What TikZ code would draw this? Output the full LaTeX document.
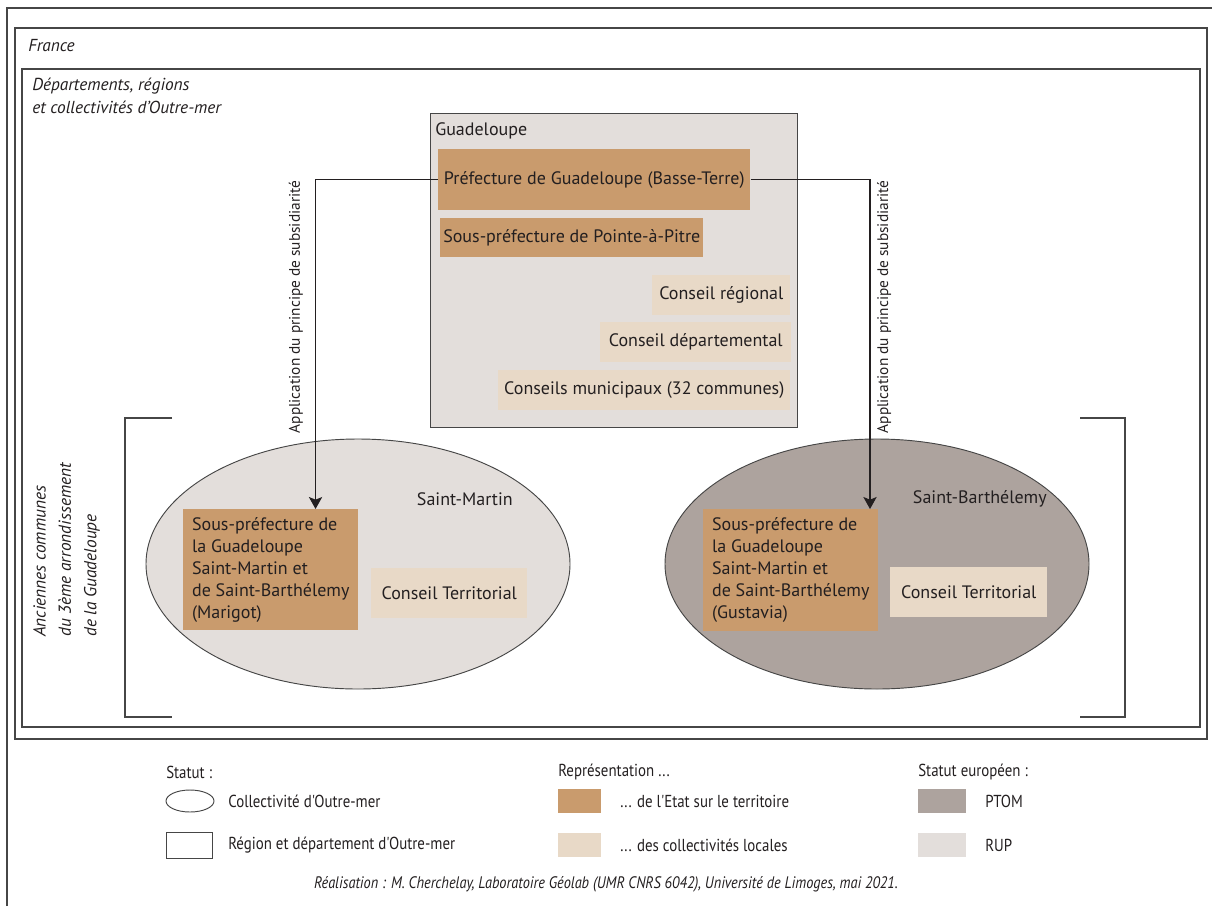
\documentclass[tikz,border=0pt]{standalone}
\usepackage{fontspec}
\setmainfont{PT Sans}
\newfontfamily\condfont[FakeStretch=0.86]{PT Sans}
\usetikzlibrary{shapes.geometric,arrows.meta,positioning}

\definecolor{brun}{RGB}{201,155,109}
\definecolor{beige}{RGB}{232,217,199}
\definecolor{gprup}{RGB}{227,222,219}
\definecolor{gpptom}{RGB}{173,163,158}
\definecolor{trait}{RGB}{70,70,70}
\definecolor{encre}{RGB}{35,31,32}

\tikzset{
  boite/.style={anchor=north west, inner sep=0pt, text=encre, font=\fontsize{13.5}{16.5}\selectfont},
  etat/.style={boite, fill=brun},
  locale/.style={boite, fill=beige},
  cadre/.style={draw=trait, line width=1.4pt},
  coll/.style={ellipse, draw=trait, line width=0.7pt, inner sep=0pt, minimum width=318pt, minimum height=187.5pt},
  fleche/.style={draw=encre, line width=0.8pt, -{Stealth[length=9pt,width=10pt,inset=2pt]}},
  crochet/.style={draw=trait, line width=1pt},
  titre/.style={text=encre, font=\itshape\fontsize{13}{17}\selectfont},
  leg/.style={anchor=west, inner sep=0pt, text=encre, font=\condfont\fontsize{13}{15}\selectfont},
  carre/.style={anchor=north west, inner sep=0pt, minimum width=32pt, minimum height=18pt}
}

\begin{document}
\begin{tikzpicture}[x=0.75pt,y=0.75pt,yscale=-1,xscale=1]
\useasboundingbox (0,0) rectangle (1212,906);

% page edges and frames
\draw [trait, line width=0.8pt] (7,906) -- (7,8) -- (1212,8);
\draw [cadre] (15,28) rectangle (1207,739);
\draw [cadre] (22,69) rectangle (1200,727);
\node [titre, anchor=west, inner sep=0pt] (france) at (28,46) {France};
\node [titre, anchor=north west, inner sep=0pt, align=left] (dom) at (32,78) {Départements, régions\\et collectivités d'Outre-mer};

% Guadeloupe
\node [anchor=north west, draw=trait, line width=0.8pt, fill=gprup, inner sep=0pt, minimum width=275.25pt, minimum height=235.5pt] (gp) at (430,113) {};
\node [boite, anchor=west] (gpNom) at (435,131) {Guadeloupe};
\node [etat, minimum width=234pt, minimum height=45.75pt] (pref) at (438,149) {Préfecture de Guadeloupe (Basse-Terre)};
\node [etat, minimum width=197.25pt, minimum height=29.25pt] (ssPref) at (440,218) {Sous-préfecture de Pointe-à-Pitre};
\node [locale, minimum width=103.5pt, minimum height=30pt] (cReg) at (652,275) {Conseil régional};
\node [locale, minimum width=143.25pt, minimum height=30pt] (cDep) at (600,322) {Conseil départemental};
\node [locale, minimum width=219pt, minimum height=30pt] (cMun) at (498,370) {Conseils municipaux (32 communes)};

% Saint-Martin
\node [coll, fill=gprup] (sm) at (358,564) {};
\node [boite, anchor=east] (smNom) at (513,499) {Saint-Martin};
\node [etat, align=left, minimum width=131.25pt, minimum height=90.75pt] (smSP) at (183,509) {Sous-préfecture de\\la Guadeloupe\\Saint-Martin et\\de Saint-Barthélemy\\(Marigot)};
\node [locale, minimum width=117pt, minimum height=37.5pt] (smCT) at (371,568) {Conseil Territorial};

% Saint-Barthelemy
\node [coll, fill=gpptom] (sb) at (877,564) {};
\node [boite, anchor=east] (sbNom) at (1047,499) {Saint-Barthélemy};
\node [etat, align=left, minimum width=131.25pt, minimum height=91.5pt] (sbSP) at (703,509) {Sous-préfecture de\\la Guadeloupe\\Saint-Martin et\\de Saint-Barthélemy\\(Gustavia)};
\node [locale, minimum width=117.75pt, minimum height=37.5pt] (sbCT) at (890,567) {Conseil Territorial};

% subsidiarite
\draw [fleche] (pref.west) -| ([xshift=-32.25pt]smSP.north east);
\draw [fleche] (pref.east) -| ([xshift=125.25pt]sbSP.north west);
\node [rotate=90, text=encre, font=\fontsize{11.5}{13}\selectfont] (subG) at (296,307) {Application du principe de subsidiarité};
\node [rotate=90, text=encre, font=\fontsize{11.5}{13}\selectfont] (subD) at (884,307) {Application du principe de subsidiarité};

% anciennes communes
\draw [crochet] (172,418) -- (125,418) -- (125,717) -- (172,717);
\draw [crochet] (1080,418) -- (1125,418) -- (1125,717) -- (1080,717);
\node [titre, rotate=90, anchor=north west, inner sep=0pt, align=left, font=\itshape\fontsize{13}{19}\selectfont] (anc) at (33,637) {Anciennes communes\\du 3ème arrondissement\\de la Guadeloupe};

% legende
\node [leg] (lStatut) at (166,772) {Statut :};
\draw [trait, line width=0.7pt] (190,801) ellipse [x radius=24, y radius=11];
\node [leg] (lColl) at (228,801) {Collectivité d'Outre-mer};
\draw [trait, line width=0.7pt] (166,832) rectangle (212,858);
\node [leg] (lReg) at (228,845) {Région et département d'Outre-mer};

\node [leg] (lRep) at (558,772) {Représentation ...};
\node [carre, fill=brun] (kEtat) at (558,789) {};
\node [leg] (lEtat) at (620,801) {... de l'Etat sur le territoire};
\node [carre, fill=beige] (kLoc) at (558,833) {};
\node [leg] (lLoc) at (620,845) {... des collectivités locales};

\node [leg] (lEur) at (918,772) {Statut européen :};
\node [carre, minimum width=36pt, fill=gpptom] (kPtom) at (918,789) {};
\node [leg] (lPtom) at (985,801) {PTOM};
\node [carre, minimum width=36pt, fill=gprup] (kRup) at (918,833) {};
\node [leg] (lRup) at (985,845) {RUP};

\node [text=encre, inner sep=0pt, font=\condfont\itshape\fontsize{12.5}{14}\selectfont] (credit) at (606,884) {Réalisation : M. Cherchelay, Laboratoire Géolab (UMR CNRS 6042), Université de Limoges, mai 2021.};
\end{tikzpicture}
\end{document}
